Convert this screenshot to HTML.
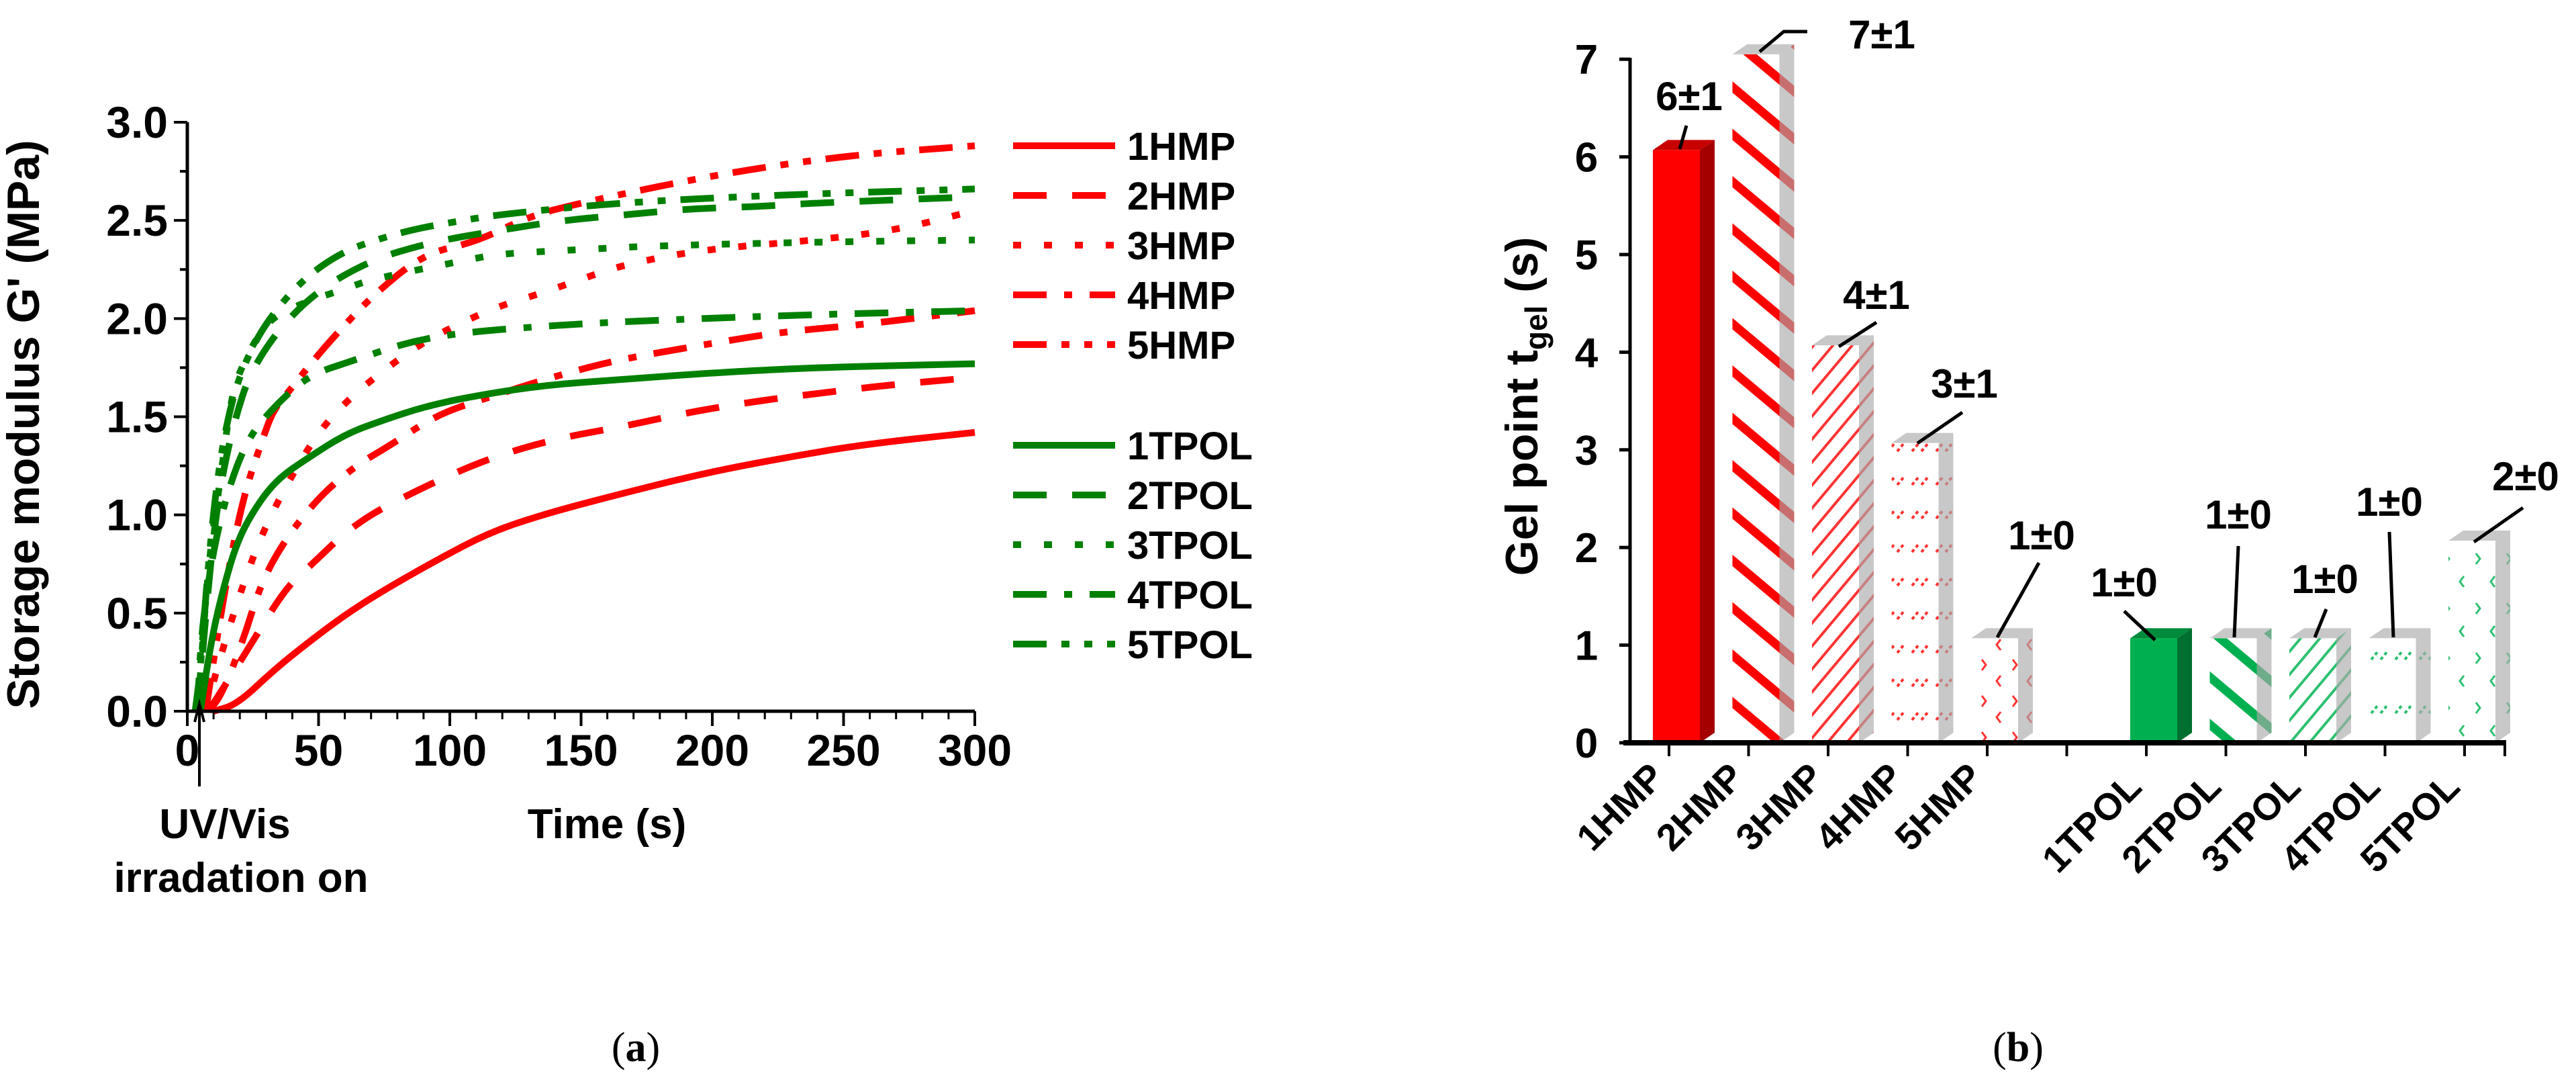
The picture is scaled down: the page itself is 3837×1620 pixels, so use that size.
<!DOCTYPE html>
<html><head><meta charset="utf-8"><style>
html,body{margin:0;padding:0;background:#fff;}
svg{display:block;}
.t{font-family:"Liberation Sans Narrow","Liberation Sans",sans-serif;font-weight:bold;}
.w{font-family:"Liberation Sans",sans-serif;font-weight:bold;}
.s{font-family:"Liberation Serif",serif;}
</style></head><body>
<svg id="fig" width="3837" height="1620" viewBox="0 0 3837 1620" xmlns="http://www.w3.org/2000/svg">
<defs>
<pattern id="pStripeR" width="54" height="54" patternUnits="userSpaceOnUse" patternTransform="rotate(40)"><rect width="54" height="54" fill="#fff"/><rect width="54" height="13" fill="#f00"/></pattern>
<pattern id="pThinR" width="22" height="22" patternUnits="userSpaceOnUse" patternTransform="rotate(-50)"><rect width="22" height="22" fill="#fff"/><rect width="22" height="4" fill="#f33"/></pattern>
<pattern id="pDashR" width="36" height="50" patternUnits="userSpaceOnUse"><rect width="36" height="50" fill="#fff"/><path d="M4 22 L14 10 M18 22 L28 10" stroke="#f33" stroke-width="4" stroke-dasharray="5 4"/></pattern>
<pattern id="pSparseR" width="46" height="54" patternUnits="userSpaceOnUse"><rect width="46" height="54" fill="#fff"/><path d="M8 10 L14 18 L8 26 M36 34 L30 42 L36 50" stroke="#f33" stroke-width="3" fill="none"/></pattern>
<pattern id="pStripeG" width="54" height="54" patternUnits="userSpaceOnUse" patternTransform="rotate(40)"><rect width="54" height="54" fill="#fff"/><rect width="54" height="13" fill="#00b050"/></pattern>
<pattern id="pThinG" width="22" height="22" patternUnits="userSpaceOnUse" patternTransform="rotate(-50)"><rect width="22" height="22" fill="#fff"/><rect width="22" height="4" fill="#2ec070"/></pattern>
<pattern id="pDashG" width="36" height="80" patternUnits="userSpaceOnUse"><rect width="36" height="80" fill="#fff"/><path d="M4 22 L14 10 M18 22 L28 10" stroke="#2ec070" stroke-width="4" stroke-dasharray="5 4"/></pattern>
<pattern id="pSparseG" width="46" height="74" patternUnits="userSpaceOnUse"><rect width="46" height="74" fill="#fff"/><path d="M8 10 L14 18 L8 26 M36 44 L30 52 L36 60" stroke="#2ec070" stroke-width="3" fill="none"/></pattern>
</defs>
<g id="left"></g>
<g id="right"></g>
<text class="s" x="947" y="1580" font-size="62" text-anchor="middle">(<tspan font-weight="bold">a</tspan>)</text>
<text class="s" x="3006" y="1580" font-size="62" text-anchor="middle">(<tspan font-weight="bold">b</tspan>)</text>
</svg>
<script>
// ---------- Left chart data ----------
const seriesNames = ["1HMP","2HMP","3HMP","4HMP","5HMP","1TPOL","2TPOL","3TPOL","4TPOL","5TPOL"];
const t1HMP = [10,19,33,46,60,74,95,115,135,160,196,227,258,300];
const v1HMP = [0,0.035,0.21,0.35,0.49,0.61,0.77,0.91,1.0,1.09,1.21,1.29,1.36,1.42];
const t2HMP = [8,21,37,46,64,88,115,141,166,190,217,241,266,300];
const v2HMP = [0,0.27,0.62,0.73,0.96,1.13,1.29,1.39,1.45,1.52,1.58,1.62,1.66,1.70];
const t3HMP = [7,12,20,30,47,59,74,90,103,118,135,150,165,195,240,270,300];
const v3HMP = [0,0.25,0.6,0.96,1.37,1.56,1.73,1.88,1.97,2.06,2.13,2.2,2.27,2.35,2.4,2.45,2.55];
const t4HMP = [8,13,21,28,37,50,64,78,95,115,141,164,194,225,258,300];
const v4HMP = [0,0.08,0.35,0.65,0.87,1.09,1.25,1.36,1.51,1.60,1.71,1.79,1.86,1.93,1.97,2.04];
const t5HMP = [7,14,21,29,33,40,47,56,70,90,110,130,150,200,250,300];
const v5HMP = [0,0.6,1.08,1.40,1.54,1.65,1.77,1.91,2.11,2.33,2.39,2.52,2.59,2.73,2.83,2.88];
const t1TPOL = [5,9,13,19,27,35,46,60,74,90,107,135,166,196,237,300];
const v1TPOL = [0,0.35,0.59,0.87,1.06,1.19,1.29,1.41,1.48,1.55,1.60,1.66,1.69,1.72,1.75,1.77];
const t2TPOL = [4,7,11,17,25,44,68,93,119,143,168,192,217,241,300];
const v2TPOL = [0,0.49,1.03,1.44,1.77,2.09,2.29,2.39,2.45,2.50,2.53,2.56,2.57,2.59,2.62];
const t3TPOL = [4,8,13,17,23,31,46,60,70,107,119,148,176,240,300];
const v3TPOL = [0,0.76,1.22,1.63,1.82,2.0,2.09,2.15,2.2,2.30,2.33,2.35,2.37,2.39,2.40];
const t4TPOL = [4,5,9,15,23,33,46,64,84,105,145,176,237,300];
const v4TPOL = [0,0.35,0.76,1.11,1.39,1.55,1.71,1.79,1.88,1.93,1.97,1.99,2.02,2.04];
const t5TPOL = [3,5,8,12,17,23,31,44,59,74,88,105,119,164,225,300];
const v5TPOL = [0,0.21,0.76,1.25,1.59,1.81,2.0,2.20,2.34,2.41,2.46,2.50,2.53,2.59,2.63,2.66];
const xTicksL = [0,50,100,150,200,250,300];
const yTicksL = ["0.0","0.5","1.0","1.5","2.0","2.5","3.0"];

// ---------- Right chart data ----------
const barCats = ["1HMP","2HMP","3HMP","4HMP","5HMP","","1TPOL","2TPOL","3TPOL","4TPOL","5TPOL"];
const barVals = [6.07,7.05,4.07,3.07,1.07,null,1.07,1.07,1.07,1.07,2.07];
const barLabels = ["6±1","7±1","4±1","3±1","1±0","","1±0","1±0","1±0","1±0","2±0"];
const yTicksR = [0,1,2,3,4,5,6,7];

const NS="http://www.w3.org/2000/svg";
function mk(tag,attrs,parent){const e=document.createElementNS(NS,tag);for(const k in attrs)e.setAttribute(k,attrs[k]);parent.appendChild(e);return e;}

// ---- left chart ----
const L=document.getElementById('left');
const lx=t=>279+t*(1452-279)/300;
const ly=v=>1059-v*(1059-182)/3;
const seriesT=[t1HMP,t2HMP,t3HMP,t4HMP,t5HMP,t1TPOL,t2TPOL,t3TPOL,t4TPOL,t5TPOL];
const seriesV=[v1HMP,v2HMP,v3HMP,v4HMP,v5HMP,v1TPOL,v2TPOL,v3TPOL,v4TPOL,v5TPOL];
const dashes=["","50 38","12 34","50 26 12 26","50 22 12 22 12 22"];
for(let i=0;i<10;i++){
  const col=i<5?"#ff0000":"#008000";
  const T=seriesT[i],V=seriesV[i];
  let d="";
  for(let j=0;j<T.length;j++){
    const x=lx(T[j]),y=ly(V[j]);
    if(j===0)d+="M"+x+" "+y;
    else{const xp=lx(T[j-1]),yp=ly(V[j-1]);const mx=(xp+x)/2;d+=" Q"+xp+" "+yp+" "+mx+" "+((yp+y)/2);}
  }
  d+=" L"+lx(T[T.length-1])+" "+ly(V[V.length-1]);
  const p=mk('path',{d:d,fill:"none",stroke:col,"stroke-width":10,"stroke-dasharray":dashes[i%5]},L);
  
  
  const ry=i<5?217+i*74:663+(i-5)*74;
  const ll=mk('line',{x1:1509,y1:ry,x2:1661,y2:ry,stroke:col,"stroke-width":10,"stroke-dasharray":dashes[i%5]},L);
  
  
  const lt=mk('text',{x:1679,y:ry+21,"font-size":58,class:"t"},L);
  lt.textContent=seriesNames[i];
  
  
}
const ax=mk('path',{d:"M279 182 V1059 H1452",fill:"none",stroke:"#000","stroke-width":5},L);


for(let t=0;t<=300;t+=10){
  const maj=t%50===0;
  mk('line',{x1:lx(t),y1:1059,x2:lx(t),y2:1059+(maj?22:12),stroke:"#000","stroke-width":maj?4:3},L);
}
xTicksL.forEach(t=>{const e=mk('text',{x:lx(t),y:1140,"font-size":66,"text-anchor":"middle",class:"t"},L);e.textContent=t;
  
  });
for(let k=0;k<=12;k++){const v=k*0.25;const maj=k%2===0;
  mk('line',{x1:279,y1:ly(v),x2:279-(maj?20:11),y2:ly(v),stroke:"#000","stroke-width":4},L);}
yTicksL.forEach(s=>{const e=mk('text',{x:250,y:ly(parseFloat(s))+23,"font-size":66,"text-anchor":"end",class:"t"},L);e.textContent=s;
  
  });
let e=mk('text',{x:0,y:0,"font-size":68,"text-anchor":"middle",class:"w",transform:"translate(58 632) rotate(-90)"},L);
e.textContent="Storage modulus G' (MPa)";


e=mk('text',{x:904,y:1248,"font-size":62,"text-anchor":"middle",class:"t"},L);e.textContent="Time (s)";


mk('line',{x1:297,y1:1048,x2:297,y2:1171,stroke:"#000","stroke-width":4},L);
mk('path',{d:"M290 1075 L297 1048 L304 1075",fill:"none",stroke:"#000","stroke-width":4},L);
e=mk('text',{x:335,y:1248,"font-size":62,"text-anchor":"middle",class:"t"},L);e.textContent="UV/Vis";


e=mk('text',{x:359,y:1328,"font-size":62,"text-anchor":"middle",class:"t"},L);e.textContent="irradation on";



// ---- right chart ----
const R=document.getElementById('right');
const bx=i=>2486+i*118.5;
const by=v=>1106-v*145.4;
const fills=["#ff0000","url(#pStripeR)","url(#pThinR)","url(#pDashR)","url(#pSparseR)",null,"#00b050","url(#pStripeG)","url(#pThinG)","url(#pDashG)","url(#pSparseG)"];
const dx=22,dy=15,bw=70;
barVals.forEach((v,i)=>{
  if(v===null)return;
  const x0=bx(i)-24,x1=x0+bw,yt=by(v),yb=by(0);
  const solid=(i===0||i===6);
  const g=mk('g',{},R);
  
  
  const sideCol=solid?(i===0?"#a50000":"#007030"):"#aaaaaa";
  const topCol=solid?(i===0?"#c80000":"#008a3c"):"#c8c8c8";
  mk('polygon',{points:`${x1},${yt} ${x1+dx},${yt-dy} ${x1+dx},${yb-dy} ${x1},${yb}`,fill:sideCol},g);
  if(!solid) mk('polygon',{points:`${x1},${yt} ${x1+dx},${yt-dy} ${x1+dx},${yb-dy} ${x1},${yb}`,fill:fills[i],opacity:0.35},g);
  mk('polygon',{points:`${x0},${yt} ${x0+dx},${yt-dy} ${x1+dx},${yt-dy} ${x1},${yt}`,fill:topCol},g);
  mk('rect',{x:x0,y:yt,width:bw,height:yb-yt,fill:fills[i]},g);
});
const ra=mk('path',{d:"M2428 86 V1106",fill:"none",stroke:"#000","stroke-width":5},R);


const rx=mk('line',{x1:2418,y1:1106,x2:3733,y2:1106,stroke:"#000","stroke-width":8},R);


for(let i=0;i<barCats.length;i++) mk('line',{x1:bx(i),y1:1106,x2:bx(i),y2:1126,stroke:"#000","stroke-width":4},R);
mk('line',{x1:3731,y1:1106,x2:3731,y2:1126,stroke:"#000","stroke-width":4},R);
yTicksR.forEach(v=>{
  mk('line',{x1:2428,y1:by(v),x2:2412,y2:by(v),stroke:"#000","stroke-width":5},R);
  const t=mk('text',{x:2363,y:by(v)+22,"font-size":62,"text-anchor":"middle",class:"t"},R);t.textContent=v;
  
  
});
barCats.forEach((c,i)=>{
  if(!c)return;
  const x=bx(i)-4,y=i<5?1160:1175;
  const t=mk('text',{x:x,y:y,"font-size":56,"text-anchor":"end",class:"w",transform:`rotate(-45 ${x} ${y})`},R);
  t.textContent=c;
  
  
});
const annX=[2516,2803,2795,2926,3041,null,3164,3334,3463,3559,3762];
const annY=[142,50,438,570,796,null,866,765,861,746,708];
const lead=[[2512,187,2502,222],[2692,47,2621,77],[2795,480,2739,516],[2923,614,2856,660],[3037,838,2975,949],null,[3164,910,3210,953],[3334,813,3328,949],[3465,907,3448,949],[3559,792,3565,949],[3758,756,3685,807]];
barLabels.forEach((s,i)=>{
  if(!s)return;
  const t=mk('text',{x:annX[i],y:annY[i]+22,"font-size":60,"text-anchor":"middle",class:"t"},R);
  t.textContent=s;
  
  
  const l=lead[i];
  if(i===1) mk('path',{d:`M${l[0]} ${l[1]} H2657 L${l[2]} ${l[3]}`,fill:"none",stroke:"#000","stroke-width":5},R);
  else mk('line',{x1:l[0],y1:l[1],x2:l[2],y2:l[3],stroke:"#000","stroke-width":5},R);
});
e=mk('text',{x:0,y:0,"font-size":68,"text-anchor":"middle",class:"w",transform:"translate(2290 605) rotate(-90)"},R);
e.innerHTML='Gel point t<tspan font-size="46" dy="14">gel</tspan><tspan dy="-14"> (s)</tspan>';


</script>
</body></html>
